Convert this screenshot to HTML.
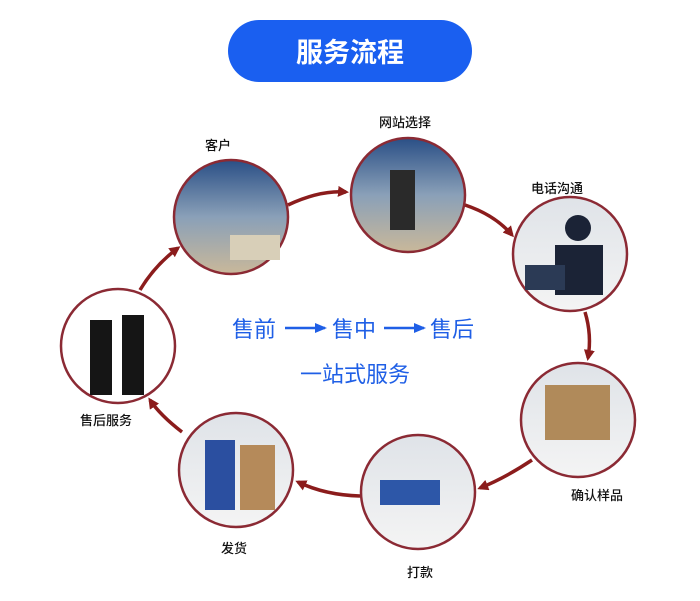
<!DOCTYPE html>
<html><head><meta charset="utf-8"><style>
body{margin:0;background:#fff;width:700px;height:596px;overflow:hidden;font-family:"Liberation Sans","Noto Sans CJK SC",sans-serif}
</style></head><body>
<svg width="700" height="596" viewBox="0 0 700 596" xmlns="http://www.w3.org/2000/svg" font-family="Liberation Sans, Noto Sans CJK SC, sans-serif">
<defs>
<linearGradient id="g1" x1="0" y1="0" x2="0" y2="1"><stop offset="0" stop-color="#2a4f86"/><stop offset="0.5" stop-color="#8aa0b8"/><stop offset="1" stop-color="#c9b89a"/></linearGradient>
<linearGradient id="g2" x1="0" y1="0" x2="0" y2="1"><stop offset="0" stop-color="#dfe3e8"/><stop offset="1" stop-color="#f4f4f4"/></linearGradient>
<marker id="ah" markerWidth="11" markerHeight="11" refX="8" refY="5.5" orient="auto" markerUnits="userSpaceOnUse"><path d="M0,0 L11,5.5 L0,11 z" fill="#8b1c1c"/></marker>
<marker id="bh" markerWidth="12" markerHeight="10" refX="10" refY="5" orient="auto" markerUnits="userSpaceOnUse"><path d="M0,0 L12,5 L0,10 z" fill="#1f5fe6"/></marker>
</defs>
<rect x="228" y="20" width="244" height="62" rx="31" fill="#1a5ff0"/>
<text x="350" y="62" text-anchor="middle" font-size="27" font-weight="bold" fill="#fff">服务流程</text>

<g fill="none" stroke="#8b1c1c" stroke-width="3.5">
<path d="M288,205 Q320,190 346,192" marker-end="url(#ah)"/>
<path d="M465,205 Q495,215 512,235" marker-end="url(#ah)"/>
<path d="M585,312 Q592,335 588,358" marker-end="url(#ah)"/>
<path d="M532,460 Q505,478 480,488" marker-end="url(#ah)"/>
<path d="M360,496 Q325,495 298,482" marker-end="url(#ah)"/>
<path d="M182,432 Q160,415 150,400" marker-end="url(#ah)"/>
<path d="M140,290 Q155,265 178,248" marker-end="url(#ah)"/>
</g>

<g stroke="#8b2a34" stroke-width="2.5">
<circle cx="231" cy="217" r="57" fill="url(#g1)"/>
<circle cx="408" cy="195" r="57" fill="url(#g1)"/>
<circle cx="570" cy="254" r="57" fill="url(#g2)"/>
<circle cx="578" cy="420" r="57" fill="url(#g2)"/>
<circle cx="418" cy="492" r="57" fill="url(#g2)"/>
<circle cx="236" cy="470" r="57" fill="url(#g2)"/>
<circle cx="118" cy="346" r="57" fill="#fff"/>
</g>
<rect x="230" y="235" width="50" height="25" fill="#d8cfb8"/>
<circle cx="578" cy="228" r="13" fill="#1b2336"/>
<rect x="555" y="245" width="48" height="50" fill="#1b2336"/>
<rect x="525" y="265" width="40" height="25" fill="#2b3a55"/>
<rect x="545" y="385" width="65" height="55" fill="#b08a5a"/>
<path d="M380,480 h60 v25 h-60z" fill="#2d57a8"/>
<rect x="240" y="445" width="35" height="65" fill="#b58a5a"/>
<rect x="205" y="440" width="30" height="70" fill="#2b4fa0"/>
<path d="M90,320 h22 v75 h-22z M122,315 h22 v80 h-22z" fill="#151515"/>
<path d="M390,170 h25 v60 h-25z" fill="#2a2a2a"/>

<g font-size="13" fill="#111" text-anchor="middle" font-weight="500">
<text x="218" y="150">客户</text>
<text x="405" y="127">网站选择</text>
<text x="557" y="193">电话沟通</text>
<text x="597" y="500">确认样品</text>
<text x="420" y="577">打款</text>
<text x="234" y="553">发货</text>
<text x="106" y="425">售后服务</text>
</g>

<g fill="#1f5fe6" font-size="22">
<text x="232" y="337">售前</text>
<text x="332" y="337">售中</text>
<text x="430" y="337">售后</text>
<text x="300" y="382">一站式服务</text>
</g>
<g stroke="#1f5fe6" stroke-width="2.5">
<line x1="285" y1="328" x2="325" y2="328" marker-end="url(#bh)"/>
<line x1="384" y1="328" x2="424" y2="328" marker-end="url(#bh)"/>
</g>
</svg>
</body></html>
